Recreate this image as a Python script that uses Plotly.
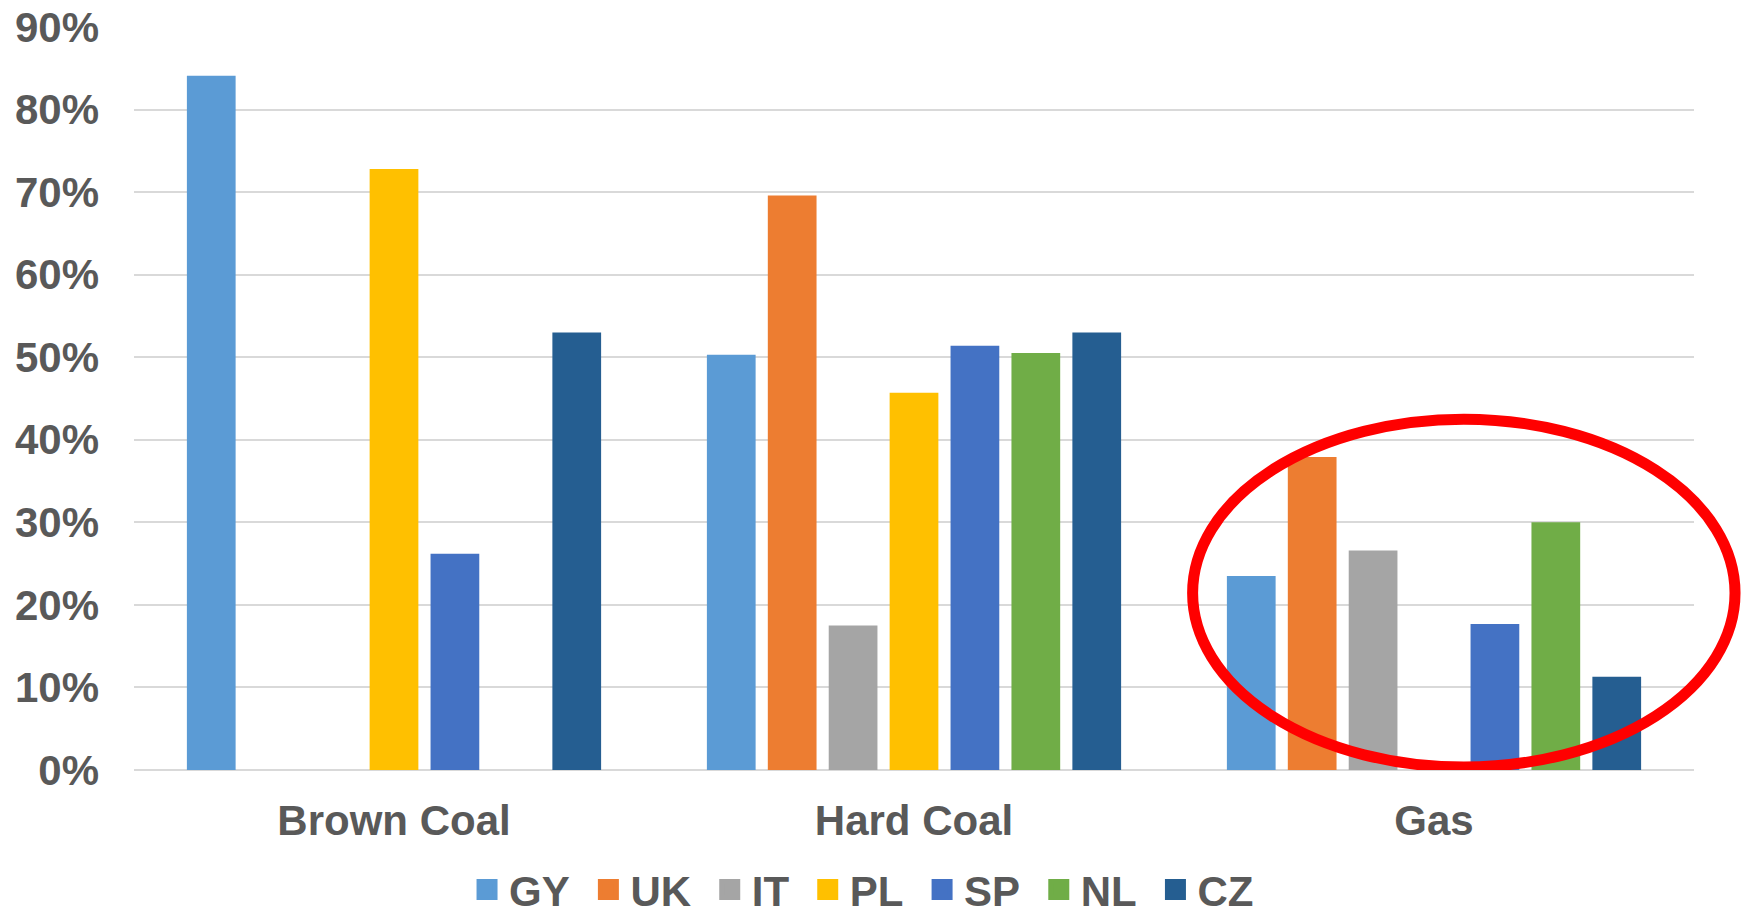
import plotly.graph_objects as go

# Fuel categories and the country series shown for each
categories = ["Brown Coal", "Hard Coal", "Gas"]
countries = ["GY", "UK", "IT", "PL", "SP", "NL", "CZ"]

# Share per country (fraction), None where the country has no value
gy = [0.841, 0.503, 0.235]
uk = [None, 0.696, 0.379]
it = [None, 0.175, 0.266]
pl = [0.728, 0.457, None]
sp = [0.262, 0.514, 0.177]
nl = [None, 0.505, 0.300]
cz = [0.530, 0.530, 0.113]

series = [gy, uk, it, pl, sp, nl, cz]
colors = ["#5B9BD5", "#ED7D31", "#A5A5A5", "#FFC000", "#4472C4", "#70AD47", "#255E91"]

FONT = "Arial, 'Liberation Sans', sans-serif"
TEXT_COLOR = "#595959"
FS = 42

fig = go.Figure()

for name, vals, col in zip(countries, series, colors):
    fig.add_trace(go.Bar(
        x=categories, y=vals, name=name, legendgroup=name,
        marker=dict(color=col, line=dict(width=0)),
        showlegend=False,
    ))

# Larger square swatches for the legend (trailing no-break space widens the item gap)
for name, col in zip(countries, colors):
    fig.add_trace(go.Scatter(
        x=[None], y=[None], mode="markers", name=name + "\u00a0", legendgroup=name,
        marker=dict(symbol="square", size=20, color=col, line=dict(color=col, width=5)),
        showlegend=True,
    ))

# Highlight ring around the gas group
fig.add_shape(
    type="circle", xref="paper", yref="y",
    x0=0.6786, x1=1.0263, y0=0.0036, y1=0.425,
    line=dict(color="#FF0000", width=11),
    fillcolor="rgba(0,0,0,0)", layer="above",
)

fig.update_layout(
    width=1746, height=914, autosize=False,
    margin=dict(l=134, r=52, t=27, b=144, autoexpand=False),
    paper_bgcolor="white", plot_bgcolor="white",
    barmode="group", bargap=0.18, bargroupgap=0.2,
    font=dict(family=FONT, size=FS, color=TEXT_COLOR, weight="bold"),
    legend=dict(
        orientation="h", x=0.2122, xanchor="left", y=-0.161, yanchor="middle",
        font=dict(family=FONT, size=FS, color=TEXT_COLOR, weight="bold"),
        traceorder="normal", bgcolor="rgba(0,0,0,0)", itemwidth=34,
    ),
    xaxis=dict(
        showgrid=False, showline=False, ticks="",
        tickfont=dict(family=FONT, size=FS, color=TEXT_COLOR, weight="bold"),
        ticklabelstandoff=22,
    ),
    yaxis=dict(
        range=[0, 0.9], dtick=0.1, tickformat=".0%",
        showgrid=True, gridcolor="#D9D9D9", gridwidth=2,
        zeroline=True, zerolinecolor="#D9D9D9", zerolinewidth=2,
        showline=False, ticks="",
        tickfont=dict(family=FONT, size=FS, color=TEXT_COLOR, weight="bold"),
        ticklabelstandoff=34,
    ),
)

fig.write_html("out.html")
